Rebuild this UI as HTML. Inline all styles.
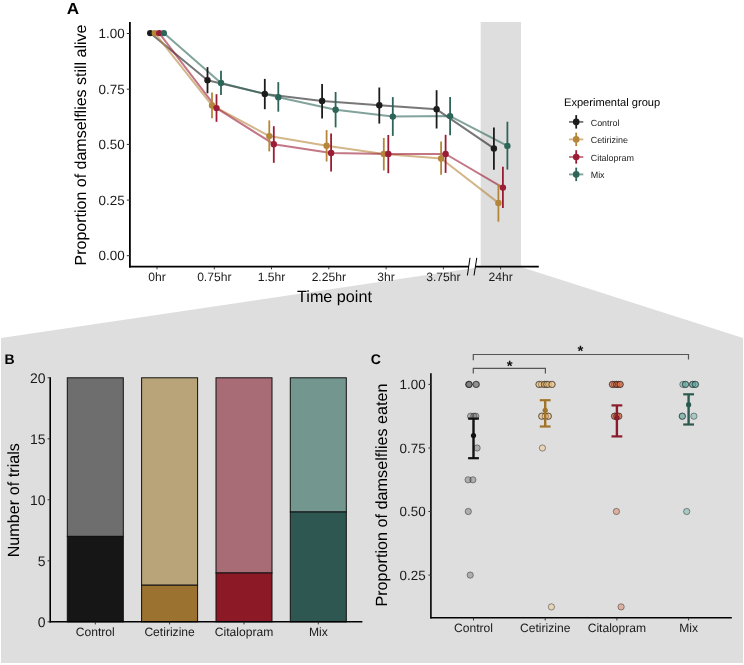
<!DOCTYPE html>
<html><head><meta charset="utf-8"><title>Figure</title>
<style>
html,body{margin:0;padding:0;background:#fff;}
svg{display:block;font-family:"Liberation Sans", sans-serif;will-change:transform;text-rendering:geometricPrecision;}
</style></head>
<body>
<svg width="744" height="665" viewBox="0 0 744 665">
<rect x="0" y="0" width="744" height="665" fill="#fff"/>
<polygon points="1,338 481,267 521,267 743,338 743,663 1,663" fill="#dedede"/>
<rect x="480.7" y="22" width="40.3" height="245" fill="#dedede"/>
<polyline points="150.2,33.1 207.5,80.3 264.8,93.9 322.1,101.0 379.3,105.2 436.6,109.3 493.9,148.4" fill="none" stroke="#1c1c1c" stroke-opacity="0.6" stroke-width="2.0" stroke-linejoin="round"/>
<polyline points="154.8,33.1 212.0,105.4 269.3,136.1 326.6,145.8 383.8,153.9 441.1,158.5 498.4,202.9" fill="none" stroke="#b5863a" stroke-opacity="0.6" stroke-width="2.0" stroke-linejoin="round"/>
<polyline points="159.2,33.1 216.5,108.1 273.8,144.2 331.1,153.0 388.3,153.9 445.6,154.0 502.9,187.6" fill="none" stroke="#9b1c35" stroke-opacity="0.6" stroke-width="2.0" stroke-linejoin="round"/>
<polyline points="163.8,33.1 221.0,82.9 278.3,97.3 335.6,109.7 392.8,116.6 450.1,116.1 507.4,145.9" fill="none" stroke="#2d6558" stroke-opacity="0.6" stroke-width="2.0" stroke-linejoin="round"/>
<circle cx="150.2" cy="33.1" r="3.2" fill="#1c1c1c"/>
<line x1="207.5" y1="67.1" x2="207.5" y2="93.3" stroke="#1c1c1c" stroke-width="1.8"/>
<circle cx="207.5" cy="80.3" r="3.2" fill="#1c1c1c"/>
<line x1="264.8" y1="78.9" x2="264.8" y2="109.2" stroke="#1c1c1c" stroke-width="1.8"/>
<circle cx="264.8" cy="93.9" r="3.2" fill="#1c1c1c"/>
<line x1="322.1" y1="84.1" x2="322.1" y2="118.4" stroke="#1c1c1c" stroke-width="1.8"/>
<circle cx="322.1" cy="101.0" r="3.2" fill="#1c1c1c"/>
<line x1="379.3" y1="87.5" x2="379.3" y2="123.6" stroke="#1c1c1c" stroke-width="1.8"/>
<circle cx="379.3" cy="105.2" r="3.2" fill="#1c1c1c"/>
<line x1="436.6" y1="90.2" x2="436.6" y2="128.5" stroke="#1c1c1c" stroke-width="1.8"/>
<circle cx="436.6" cy="109.3" r="3.2" fill="#1c1c1c"/>
<line x1="493.9" y1="127.4" x2="493.9" y2="169.8" stroke="#1c1c1c" stroke-width="1.8"/>
<circle cx="493.9" cy="148.4" r="3.2" fill="#1c1c1c"/>
<circle cx="154.8" cy="33.1" r="3.2" fill="#b5863a"/>
<line x1="212.0" y1="92.4" x2="212.0" y2="118.2" stroke="#b5863a" stroke-width="1.8"/>
<circle cx="212.0" cy="105.4" r="3.2" fill="#b5863a"/>
<line x1="269.3" y1="120.4" x2="269.3" y2="151.4" stroke="#b5863a" stroke-width="1.8"/>
<circle cx="269.3" cy="136.1" r="3.2" fill="#b5863a"/>
<line x1="326.6" y1="130.1" x2="326.6" y2="161.5" stroke="#b5863a" stroke-width="1.8"/>
<circle cx="326.6" cy="145.8" r="3.2" fill="#b5863a"/>
<line x1="383.8" y1="138.0" x2="383.8" y2="170.5" stroke="#b5863a" stroke-width="1.8"/>
<circle cx="383.8" cy="153.9" r="3.2" fill="#b5863a"/>
<line x1="441.1" y1="141.4" x2="441.1" y2="174.7" stroke="#b5863a" stroke-width="1.8"/>
<circle cx="441.1" cy="158.5" r="3.2" fill="#b5863a"/>
<line x1="498.4" y1="184.2" x2="498.4" y2="221.7" stroke="#b5863a" stroke-width="1.8"/>
<circle cx="498.4" cy="202.9" r="3.2" fill="#b5863a"/>
<circle cx="159.2" cy="33.1" r="3.2" fill="#9b1c35"/>
<line x1="216.5" y1="94.2" x2="216.5" y2="121.8" stroke="#9b1c35" stroke-width="1.8"/>
<circle cx="216.5" cy="108.1" r="3.2" fill="#9b1c35"/>
<line x1="273.8" y1="126.2" x2="273.8" y2="162.8" stroke="#9b1c35" stroke-width="1.8"/>
<circle cx="273.8" cy="144.2" r="3.2" fill="#9b1c35"/>
<line x1="331.1" y1="133.5" x2="331.1" y2="171.6" stroke="#9b1c35" stroke-width="1.8"/>
<circle cx="331.1" cy="153.0" r="3.2" fill="#9b1c35"/>
<line x1="388.3" y1="135.0" x2="388.3" y2="173.2" stroke="#9b1c35" stroke-width="1.8"/>
<circle cx="388.3" cy="153.9" r="3.2" fill="#9b1c35"/>
<line x1="445.6" y1="134.8" x2="445.6" y2="172.9" stroke="#9b1c35" stroke-width="1.8"/>
<circle cx="445.6" cy="154.0" r="3.2" fill="#9b1c35"/>
<line x1="502.9" y1="166.8" x2="502.9" y2="207.9" stroke="#9b1c35" stroke-width="1.8"/>
<circle cx="502.9" cy="187.6" r="3.2" fill="#9b1c35"/>
<circle cx="163.8" cy="33.1" r="3.2" fill="#2d6558"/>
<line x1="221.0" y1="70.8" x2="221.0" y2="95.1" stroke="#2d6558" stroke-width="1.8"/>
<circle cx="221.0" cy="82.9" r="3.2" fill="#2d6558"/>
<line x1="278.3" y1="82.1" x2="278.3" y2="111.7" stroke="#2d6558" stroke-width="1.8"/>
<circle cx="278.3" cy="97.3" r="3.2" fill="#2d6558"/>
<line x1="335.6" y1="92.0" x2="335.6" y2="127.4" stroke="#2d6558" stroke-width="1.8"/>
<circle cx="335.6" cy="109.7" r="3.2" fill="#2d6558"/>
<line x1="392.8" y1="97.1" x2="392.8" y2="135.9" stroke="#2d6558" stroke-width="1.8"/>
<circle cx="392.8" cy="116.6" r="3.2" fill="#2d6558"/>
<line x1="450.1" y1="96.9" x2="450.1" y2="135.3" stroke="#2d6558" stroke-width="1.8"/>
<circle cx="450.1" cy="116.1" r="3.2" fill="#2d6558"/>
<line x1="507.4" y1="121.7" x2="507.4" y2="169.6" stroke="#2d6558" stroke-width="1.8"/>
<circle cx="507.4" cy="145.9" r="3.2" fill="#2d6558"/>
<line x1="129.9" y1="22" x2="129.9" y2="267.5" stroke="#000" stroke-width="1.8"/>
<line x1="129" y1="266.6" x2="469" y2="266.6" stroke="#000" stroke-width="1.8"/>
<line x1="475.5" y1="266.6" x2="538.8" y2="266.6" stroke="#000" stroke-width="1.8"/>
<line x1="467.4" y1="275.5" x2="470.0" y2="257.8" stroke="#000" stroke-width="1.0"/>
<line x1="474.0" y1="275.5" x2="476.8" y2="257.8" stroke="#000" stroke-width="1.0"/>
<line x1="126.8" y1="33.5" x2="129.9" y2="33.5" stroke="#333" stroke-width="1"/>
<text x="124.6" y="38.1" font-size="13.4" text-anchor="end" fill="#1a1a1a">1.00</text>
<line x1="126.8" y1="89.2" x2="129.9" y2="89.2" stroke="#333" stroke-width="1"/>
<text x="124.6" y="93.8" font-size="13.4" text-anchor="end" fill="#1a1a1a">0.75</text>
<line x1="126.8" y1="144.4" x2="129.9" y2="144.4" stroke="#333" stroke-width="1"/>
<text x="124.6" y="149.0" font-size="13.4" text-anchor="end" fill="#1a1a1a">0.50</text>
<line x1="126.8" y1="200.1" x2="129.9" y2="200.1" stroke="#333" stroke-width="1"/>
<text x="124.6" y="204.7" font-size="13.4" text-anchor="end" fill="#1a1a1a">0.25</text>
<line x1="126.8" y1="255.7" x2="129.9" y2="255.7" stroke="#333" stroke-width="1"/>
<text x="124.6" y="260.3" font-size="13.4" text-anchor="end" fill="#1a1a1a">0.00</text>
<line x1="157.0" y1="267" x2="157.0" y2="269.3" stroke="#333" stroke-width="1"/>
<text x="157.0" y="281.1" font-size="12.1" text-anchor="middle" fill="#1a1a1a">0hr</text>
<line x1="214.3" y1="267" x2="214.3" y2="269.3" stroke="#333" stroke-width="1"/>
<text x="214.3" y="281.1" font-size="12.1" text-anchor="middle" fill="#1a1a1a">0.75hr</text>
<line x1="271.5" y1="267" x2="271.5" y2="269.3" stroke="#333" stroke-width="1"/>
<text x="271.5" y="281.1" font-size="12.1" text-anchor="middle" fill="#1a1a1a">1.5hr</text>
<line x1="328.8" y1="267" x2="328.8" y2="269.3" stroke="#333" stroke-width="1"/>
<text x="328.8" y="281.1" font-size="12.1" text-anchor="middle" fill="#1a1a1a">2.25hr</text>
<line x1="386.1" y1="267" x2="386.1" y2="269.3" stroke="#333" stroke-width="1"/>
<text x="386.1" y="281.1" font-size="12.1" text-anchor="middle" fill="#1a1a1a">3hr</text>
<line x1="443.4" y1="267" x2="443.4" y2="269.3" stroke="#333" stroke-width="1"/>
<text x="443.4" y="281.1" font-size="12.1" text-anchor="middle" fill="#1a1a1a">3.75hr</text>
<line x1="500.6" y1="267" x2="500.6" y2="269.3" stroke="#333" stroke-width="1"/>
<text x="500.6" y="281.1" font-size="12.1" text-anchor="middle" fill="#1a1a1a">24hr</text>
<text x="334.5" y="302.1" font-size="16.2" text-anchor="middle" fill="#000">Time point</text>
<text transform="translate(86,145) rotate(-90)" x="0" y="0" font-size="16" text-anchor="middle" fill="#000">Proportion of damselflies still alive</text>
<text transform="translate(66.8,13.6) scale(1.07,1)" font-size="16" font-weight="bold" fill="#000">A</text>
<text x="564" y="106.2" font-size="11.1" fill="#000">Experimental group</text>
<line x1="569.0" y1="121.9" x2="583.3" y2="121.9" stroke="#1c1c1c" stroke-opacity="0.6" stroke-width="1.9"/>
<line x1="576.2" y1="115.1" x2="576.2" y2="128.6" stroke="#1c1c1c" stroke-width="1.8"/>
<circle cx="576.2" cy="121.9" r="3.3" fill="#1c1c1c"/>
<text x="590.7" y="125.5" font-size="8.95" fill="#1a1a1a">Control</text>
<line x1="569.0" y1="139.4" x2="583.3" y2="139.4" stroke="#b5863a" stroke-opacity="0.6" stroke-width="1.9"/>
<line x1="576.2" y1="132.6" x2="576.2" y2="146.1" stroke="#b5863a" stroke-width="1.8"/>
<circle cx="576.2" cy="139.4" r="3.3" fill="#b5863a"/>
<text x="590.7" y="143.0" font-size="8.95" fill="#1a1a1a">Cetirizine</text>
<line x1="569.0" y1="157.0" x2="583.3" y2="157.0" stroke="#9b1c35" stroke-opacity="0.6" stroke-width="1.9"/>
<line x1="576.2" y1="150.2" x2="576.2" y2="163.7" stroke="#9b1c35" stroke-width="1.8"/>
<circle cx="576.2" cy="157.0" r="3.3" fill="#9b1c35"/>
<text x="590.7" y="160.6" font-size="8.95" fill="#1a1a1a">Citalopram</text>
<line x1="569.0" y1="174.4" x2="583.3" y2="174.4" stroke="#2d6558" stroke-opacity="0.6" stroke-width="1.9"/>
<line x1="576.2" y1="167.6" x2="576.2" y2="181.1" stroke="#2d6558" stroke-width="1.8"/>
<circle cx="576.2" cy="174.4" r="3.3" fill="#2d6558"/>
<text x="590.7" y="178.0" font-size="8.95" fill="#1a1a1a">Mix</text>
<text x="4.4" y="363.7" font-size="14" font-weight="bold" fill="#000">B</text>
<rect x="67.3" y="377.8" width="56" height="158.6" fill="#6e6e6e" stroke="#111" stroke-width="1"/>
<rect x="67.3" y="536.4" width="56" height="85.4" fill="#161616" stroke="#111" stroke-width="1"/>
<rect x="141.6" y="377.8" width="56" height="207.4" fill="#b9a47a" stroke="#111" stroke-width="1"/>
<rect x="141.6" y="585.2" width="56" height="36.6" fill="#9b722f" stroke="#111" stroke-width="1"/>
<rect x="216.0" y="377.8" width="56" height="195.2" fill="#a86c77" stroke="#111" stroke-width="1"/>
<rect x="216.0" y="573.0" width="56" height="48.8" fill="#8b1a26" stroke="#111" stroke-width="1"/>
<rect x="290.3" y="377.8" width="56" height="134.2" fill="#73968f" stroke="#111" stroke-width="1"/>
<rect x="290.3" y="512.0" width="56" height="109.8" fill="#2d5750" stroke="#111" stroke-width="1"/>
<line x1="50.2" y1="377.3" x2="50.2" y2="622.6" stroke="#000" stroke-width="1.6"/>
<line x1="49.4" y1="621.8" x2="362.4" y2="621.8" stroke="#000" stroke-width="1.6"/>
<line x1="47.6" y1="621.8" x2="50.2" y2="621.8" stroke="#333" stroke-width="1"/>
<text x="45.6" y="626.7" font-size="14" text-anchor="end" fill="#1a1a1a">0</text>
<line x1="47.6" y1="560.8" x2="50.2" y2="560.8" stroke="#333" stroke-width="1"/>
<text x="45.6" y="565.7" font-size="14" text-anchor="end" fill="#1a1a1a">5</text>
<line x1="47.6" y1="499.8" x2="50.2" y2="499.8" stroke="#333" stroke-width="1"/>
<text x="45.6" y="504.7" font-size="14" text-anchor="end" fill="#1a1a1a">10</text>
<line x1="47.6" y1="438.8" x2="50.2" y2="438.8" stroke="#333" stroke-width="1"/>
<text x="45.6" y="443.7" font-size="14" text-anchor="end" fill="#1a1a1a">15</text>
<line x1="47.6" y1="377.8" x2="50.2" y2="377.8" stroke="#333" stroke-width="1"/>
<text x="45.6" y="382.7" font-size="14" text-anchor="end" fill="#1a1a1a">20</text>
<line x1="95.3" y1="622" x2="95.3" y2="624.4" stroke="#333" stroke-width="1"/>
<text x="95.3" y="636.0" font-size="12.1" text-anchor="middle" fill="#1a1a1a">Control</text>
<line x1="169.6" y1="622" x2="169.6" y2="624.4" stroke="#333" stroke-width="1"/>
<text x="169.6" y="636.0" font-size="12.1" text-anchor="middle" fill="#1a1a1a">Cetirizine</text>
<line x1="244.0" y1="622" x2="244.0" y2="624.4" stroke="#333" stroke-width="1"/>
<text x="244.0" y="636.0" font-size="12.1" text-anchor="middle" fill="#1a1a1a">Citalopram</text>
<line x1="318.3" y1="622" x2="318.3" y2="624.4" stroke="#333" stroke-width="1"/>
<text x="318.3" y="636.0" font-size="12.1" text-anchor="middle" fill="#1a1a1a">Mix</text>
<text transform="translate(18.8,500.2) rotate(-90)" font-size="16.2" text-anchor="middle" fill="#000">Number of trials</text>
<text x="370.8" y="363.6" font-size="14" font-weight="bold" fill="#000">C</text>
<path d="M473.3,360.3 V354.5 H688.5 V359.6" fill="none" stroke="#555" stroke-width="1.2"/>
<path d="M473.3,373.6 V368.3 H545.4 V373.6" fill="none" stroke="#555" stroke-width="1.2"/>
<text x="509.6" y="371.0" font-size="15" font-weight="bold" text-anchor="middle" fill="#111">*</text>
<text x="580.4" y="356.4" font-size="15" font-weight="bold" text-anchor="middle" fill="#111">*</text>
<circle cx="468.8" cy="384.4" r="3.15" fill="#666666" fill-opacity="0.4" stroke="#000" stroke-opacity="0.42" stroke-width="0.9"/>
<circle cx="468.8" cy="384.4" r="3.15" fill="#666666" fill-opacity="0.4" stroke="#000" stroke-opacity="0.42" stroke-width="0.9"/>
<circle cx="469.3" cy="384.4" r="3.15" fill="#666666" fill-opacity="0.4" stroke="#000" stroke-opacity="0.42" stroke-width="0.9"/>
<circle cx="476.4" cy="384.4" r="3.15" fill="#666666" fill-opacity="0.4" stroke="#000" stroke-opacity="0.42" stroke-width="0.9"/>
<circle cx="476.0" cy="384.4" r="3.15" fill="#666666" fill-opacity="0.4" stroke="#000" stroke-opacity="0.42" stroke-width="0.9"/>
<circle cx="470.6" cy="416.2" r="3.15" fill="#666666" fill-opacity="0.4" stroke="#000" stroke-opacity="0.42" stroke-width="0.9"/>
<circle cx="473.8" cy="416.2" r="3.15" fill="#666666" fill-opacity="0.4" stroke="#000" stroke-opacity="0.42" stroke-width="0.9"/>
<circle cx="475.8" cy="416.2" r="3.15" fill="#666666" fill-opacity="0.4" stroke="#000" stroke-opacity="0.42" stroke-width="0.9"/>
<circle cx="477.1" cy="448.0" r="3.15" fill="#666666" fill-opacity="0.4" stroke="#000" stroke-opacity="0.42" stroke-width="0.9"/>
<circle cx="468.1" cy="479.8" r="3.15" fill="#666666" fill-opacity="0.4" stroke="#000" stroke-opacity="0.42" stroke-width="0.9"/>
<circle cx="472.9" cy="479.8" r="3.15" fill="#666666" fill-opacity="0.4" stroke="#000" stroke-opacity="0.42" stroke-width="0.9"/>
<circle cx="468.3" cy="511.5" r="3.15" fill="#666666" fill-opacity="0.4" stroke="#000" stroke-opacity="0.42" stroke-width="0.9"/>
<circle cx="470.2" cy="575.1" r="3.15" fill="#666666" fill-opacity="0.4" stroke="#000" stroke-opacity="0.42" stroke-width="0.9"/>
<circle cx="538.9" cy="384.4" r="3.15" fill="#f5c27a" fill-opacity="0.4" stroke="#000" stroke-opacity="0.42" stroke-width="0.9"/>
<circle cx="539.2" cy="384.4" r="3.15" fill="#f5c27a" fill-opacity="0.4" stroke="#000" stroke-opacity="0.42" stroke-width="0.9"/>
<circle cx="541.6" cy="384.4" r="3.15" fill="#f5c27a" fill-opacity="0.4" stroke="#000" stroke-opacity="0.42" stroke-width="0.9"/>
<circle cx="544.3" cy="384.4" r="3.15" fill="#f5c27a" fill-opacity="0.4" stroke="#000" stroke-opacity="0.42" stroke-width="0.9"/>
<circle cx="544.6" cy="384.4" r="3.15" fill="#f5c27a" fill-opacity="0.4" stroke="#000" stroke-opacity="0.42" stroke-width="0.9"/>
<circle cx="546.6" cy="384.4" r="3.15" fill="#f5c27a" fill-opacity="0.4" stroke="#000" stroke-opacity="0.42" stroke-width="0.9"/>
<circle cx="547.0" cy="384.4" r="3.15" fill="#f5c27a" fill-opacity="0.4" stroke="#000" stroke-opacity="0.42" stroke-width="0.9"/>
<circle cx="548.8" cy="384.4" r="3.15" fill="#f5c27a" fill-opacity="0.4" stroke="#000" stroke-opacity="0.42" stroke-width="0.9"/>
<circle cx="552.2" cy="384.4" r="3.15" fill="#f5c27a" fill-opacity="0.4" stroke="#000" stroke-opacity="0.42" stroke-width="0.9"/>
<circle cx="551.8" cy="384.4" r="3.15" fill="#f5c27a" fill-opacity="0.4" stroke="#000" stroke-opacity="0.42" stroke-width="0.9"/>
<circle cx="541.7" cy="416.2" r="3.15" fill="#f5c27a" fill-opacity="0.4" stroke="#000" stroke-opacity="0.42" stroke-width="0.9"/>
<circle cx="541.9" cy="416.2" r="3.15" fill="#f5c27a" fill-opacity="0.4" stroke="#000" stroke-opacity="0.42" stroke-width="0.9"/>
<circle cx="548.4" cy="416.2" r="3.15" fill="#f5c27a" fill-opacity="0.4" stroke="#000" stroke-opacity="0.42" stroke-width="0.9"/>
<circle cx="548.2" cy="416.2" r="3.15" fill="#f5c27a" fill-opacity="0.4" stroke="#000" stroke-opacity="0.42" stroke-width="0.9"/>
<circle cx="545.3" cy="416.2" r="3.15" fill="#f5c27a" fill-opacity="0.4" stroke="#000" stroke-opacity="0.42" stroke-width="0.9"/>
<circle cx="542.4" cy="448.0" r="3.15" fill="#f5c27a" fill-opacity="0.4" stroke="#000" stroke-opacity="0.42" stroke-width="0.9"/>
<circle cx="551.4" cy="606.9" r="3.15" fill="#f5c27a" fill-opacity="0.4" stroke="#000" stroke-opacity="0.42" stroke-width="0.9"/>
<circle cx="612.3" cy="384.4" r="3.15" fill="#d96b43" fill-opacity="0.4" stroke="#000" stroke-opacity="0.42" stroke-width="0.9"/>
<circle cx="612.6" cy="384.4" r="3.15" fill="#d96b43" fill-opacity="0.4" stroke="#000" stroke-opacity="0.42" stroke-width="0.9"/>
<circle cx="614.6" cy="384.4" r="3.15" fill="#d96b43" fill-opacity="0.4" stroke="#000" stroke-opacity="0.42" stroke-width="0.9"/>
<circle cx="616.5" cy="384.4" r="3.15" fill="#d96b43" fill-opacity="0.4" stroke="#000" stroke-opacity="0.42" stroke-width="0.9"/>
<circle cx="616.8" cy="384.4" r="3.15" fill="#d96b43" fill-opacity="0.4" stroke="#000" stroke-opacity="0.42" stroke-width="0.9"/>
<circle cx="618.5" cy="384.4" r="3.15" fill="#d96b43" fill-opacity="0.4" stroke="#000" stroke-opacity="0.42" stroke-width="0.9"/>
<circle cx="620.3" cy="384.4" r="3.15" fill="#d96b43" fill-opacity="0.4" stroke="#000" stroke-opacity="0.42" stroke-width="0.9"/>
<circle cx="620.0" cy="384.4" r="3.15" fill="#d96b43" fill-opacity="0.4" stroke="#000" stroke-opacity="0.42" stroke-width="0.9"/>
<circle cx="614.4" cy="416.2" r="3.15" fill="#d96b43" fill-opacity="0.4" stroke="#000" stroke-opacity="0.42" stroke-width="0.9"/>
<circle cx="614.8" cy="416.2" r="3.15" fill="#d96b43" fill-opacity="0.4" stroke="#000" stroke-opacity="0.42" stroke-width="0.9"/>
<circle cx="616.8" cy="416.2" r="3.15" fill="#d96b43" fill-opacity="0.4" stroke="#000" stroke-opacity="0.42" stroke-width="0.9"/>
<circle cx="617.0" cy="416.2" r="3.15" fill="#d96b43" fill-opacity="0.4" stroke="#000" stroke-opacity="0.42" stroke-width="0.9"/>
<circle cx="618.6" cy="416.2" r="3.15" fill="#d96b43" fill-opacity="0.4" stroke="#000" stroke-opacity="0.42" stroke-width="0.9"/>
<circle cx="618.9" cy="416.2" r="3.15" fill="#d96b43" fill-opacity="0.4" stroke="#000" stroke-opacity="0.42" stroke-width="0.9"/>
<circle cx="616.4" cy="511.5" r="3.15" fill="#d96b43" fill-opacity="0.4" stroke="#000" stroke-opacity="0.42" stroke-width="0.9"/>
<circle cx="621.1" cy="606.9" r="3.15" fill="#d96b43" fill-opacity="0.4" stroke="#000" stroke-opacity="0.42" stroke-width="0.9"/>
<circle cx="682.9" cy="384.4" r="3.15" fill="#57a79d" fill-opacity="0.4" stroke="#000" stroke-opacity="0.42" stroke-width="0.9"/>
<circle cx="685.4" cy="384.4" r="3.15" fill="#57a79d" fill-opacity="0.4" stroke="#000" stroke-opacity="0.42" stroke-width="0.9"/>
<circle cx="685.6" cy="384.4" r="3.15" fill="#57a79d" fill-opacity="0.4" stroke="#000" stroke-opacity="0.42" stroke-width="0.9"/>
<circle cx="692.4" cy="384.4" r="3.15" fill="#57a79d" fill-opacity="0.4" stroke="#000" stroke-opacity="0.42" stroke-width="0.9"/>
<circle cx="692.8" cy="384.4" r="3.15" fill="#57a79d" fill-opacity="0.4" stroke="#000" stroke-opacity="0.42" stroke-width="0.9"/>
<circle cx="695.5" cy="384.4" r="3.15" fill="#57a79d" fill-opacity="0.4" stroke="#000" stroke-opacity="0.42" stroke-width="0.9"/>
<circle cx="695.2" cy="384.4" r="3.15" fill="#57a79d" fill-opacity="0.4" stroke="#000" stroke-opacity="0.42" stroke-width="0.9"/>
<circle cx="682.2" cy="416.2" r="3.15" fill="#57a79d" fill-opacity="0.4" stroke="#000" stroke-opacity="0.42" stroke-width="0.9"/>
<circle cx="682.4" cy="416.2" r="3.15" fill="#57a79d" fill-opacity="0.4" stroke="#000" stroke-opacity="0.42" stroke-width="0.9"/>
<circle cx="693.9" cy="416.2" r="3.15" fill="#57a79d" fill-opacity="0.4" stroke="#000" stroke-opacity="0.42" stroke-width="0.9"/>
<circle cx="686.7" cy="511.5" r="3.15" fill="#57a79d" fill-opacity="0.4" stroke="#000" stroke-opacity="0.42" stroke-width="0.9"/>
<line x1="473.5" y1="418.6" x2="473.5" y2="458.2" stroke="#111111" stroke-width="2.4"/>
<line x1="468.1" y1="418.6" x2="478.9" y2="418.6" stroke="#111111" stroke-width="2.2"/>
<line x1="468.1" y1="458.2" x2="478.9" y2="458.2" stroke="#111111" stroke-width="2.2"/>
<circle cx="473.5" cy="435.6" r="2.6" fill="#111111"/>
<line x1="545.2" y1="400.2" x2="545.2" y2="426.5" stroke="#a27429" stroke-width="2.4"/>
<line x1="539.8" y1="400.2" x2="550.6" y2="400.2" stroke="#a27429" stroke-width="2.2"/>
<line x1="539.8" y1="426.5" x2="550.6" y2="426.5" stroke="#a27429" stroke-width="2.2"/>
<circle cx="545.2" cy="410.3" r="2.6" fill="#a27429"/>
<line x1="616.9" y1="405.4" x2="616.9" y2="436.4" stroke="#8b1a2b" stroke-width="2.4"/>
<line x1="611.5" y1="405.4" x2="622.3" y2="405.4" stroke="#8b1a2b" stroke-width="2.2"/>
<line x1="611.5" y1="436.4" x2="622.3" y2="436.4" stroke="#8b1a2b" stroke-width="2.2"/>
<circle cx="616.9" cy="417.8" r="2.6" fill="#8b1a2b"/>
<line x1="688.6" y1="394.3" x2="688.6" y2="424.5" stroke="#2d5a50" stroke-width="2.4"/>
<line x1="683.2" y1="394.3" x2="694.0" y2="394.3" stroke="#2d5a50" stroke-width="2.2"/>
<line x1="683.2" y1="424.5" x2="694.0" y2="424.5" stroke="#2d5a50" stroke-width="2.2"/>
<circle cx="688.6" cy="404.7" r="2.6" fill="#2d5a50"/>
<line x1="430.9" y1="373.3" x2="430.9" y2="618.6" stroke="#000" stroke-width="1.6"/>
<line x1="430.4" y1="617.8" x2="731.8" y2="617.8" stroke="#000" stroke-width="1.6"/>
<line x1="428.4" y1="384.4" x2="430.9" y2="384.4" stroke="#333" stroke-width="1"/>
<text x="425.6" y="389.0" font-size="13.4" text-anchor="end" fill="#1a1a1a">1.00</text>
<line x1="428.4" y1="448.0" x2="430.9" y2="448.0" stroke="#333" stroke-width="1"/>
<text x="425.6" y="452.6" font-size="13.4" text-anchor="end" fill="#1a1a1a">0.75</text>
<line x1="428.4" y1="511.5" x2="430.9" y2="511.5" stroke="#333" stroke-width="1"/>
<text x="425.6" y="516.1" font-size="13.4" text-anchor="end" fill="#1a1a1a">0.50</text>
<line x1="428.4" y1="575.1" x2="430.9" y2="575.1" stroke="#333" stroke-width="1"/>
<text x="425.6" y="579.7" font-size="13.4" text-anchor="end" fill="#1a1a1a">0.25</text>
<line x1="473.5" y1="618" x2="473.5" y2="620.4" stroke="#333" stroke-width="1"/>
<text x="473.5" y="632.4" font-size="12.1" text-anchor="middle" fill="#1a1a1a">Control</text>
<line x1="545.2" y1="618" x2="545.2" y2="620.4" stroke="#333" stroke-width="1"/>
<text x="545.2" y="632.4" font-size="12.1" text-anchor="middle" fill="#1a1a1a">Cetirizine</text>
<line x1="616.9" y1="618" x2="616.9" y2="620.4" stroke="#333" stroke-width="1"/>
<text x="616.9" y="632.4" font-size="12.1" text-anchor="middle" fill="#1a1a1a">Citalopram</text>
<line x1="688.6" y1="618" x2="688.6" y2="620.4" stroke="#333" stroke-width="1"/>
<text x="688.6" y="632.4" font-size="12.1" text-anchor="middle" fill="#1a1a1a">Mix</text>
<text transform="translate(386.8,495) rotate(-90)" font-size="16.2" text-anchor="middle" fill="#000">Proportion of damselflies eaten</text>
</svg>
</body></html>
